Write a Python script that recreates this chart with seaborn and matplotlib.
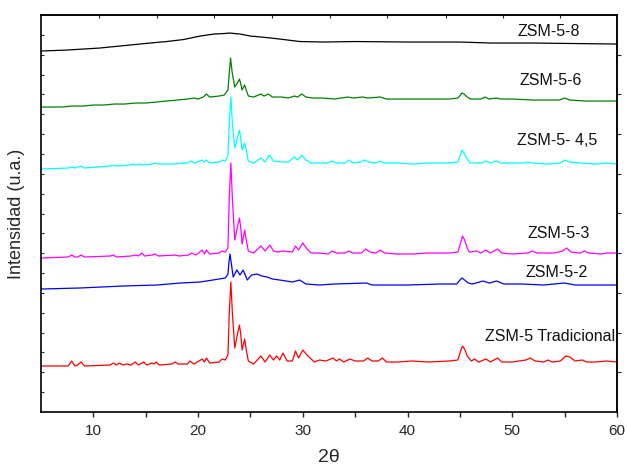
import numpy as np
import pandas as pd
import seaborn as sns
import matplotlib
matplotlib.use("Agg")
import matplotlib.pyplot as plt

# patrones DRX: (2theta, intensidad u.a.)
zsm5_8 = [(5.0, 361), (7.5, 362), (10.6, 364), (13.0, 366.5), (15.4, 369), (17.0, 370.5),
          (18.6, 372.5), (20.2, 376), (21.5, 378), (22.5, 378.5), (23.0, 379), (24.0, 378),
          (25.0, 376), (26.5, 374.5), (27.8, 373), (29.7, 370.5), (32.0, 370), (35.0, 370.5),
          (40.0, 370), (45.0, 370), (48.0, 369), (52.0, 369), (56.0, 368.5), (60.0, 368)]

zsm5_6 = [(5.0, 305), (7.0, 305), (8.0, 306), (9.0, 306), (10.0, 307), (11.0, 307), (12.0, 308),
          (13.0, 308), (14.0, 309), (15.0, 309), (16.0, 310), (17.0, 311), (18.0, 312), (19.0, 313),
          (19.6, 314), (20.0, 313), (20.5, 315), (20.8, 318), (21.1, 315), (22.0, 316), (22.5, 317),
          (22.85, 322), (22.97, 338), (23.1, 354), (23.25, 340), (23.5, 325), (23.8, 330),
          (23.95, 333), (24.08, 328), (24.2, 322), (24.45, 327), (24.6, 322), (24.8, 316),
          (25.3, 315), (26.0, 318), (26.3, 316), (26.7, 318), (27.1, 315), (28.0, 315),
          (28.6, 314), (29.2, 316), (29.5, 315), (29.9, 318), (30.3, 315), (31.0, 314), (32.0, 314),
          (33.0, 313), (34.3, 315), (34.8, 314), (35.7, 315), (36.2, 314), (37.4, 315), (38.0, 313),
          (40.0, 313), (42.0, 313), (44.0, 313), (44.8, 314), (45.05, 317), (45.2, 319),
          (45.4, 318), (45.7, 315), (46.0, 313), (47.0, 313), (47.4, 315), (47.8, 313), (48.5, 314),
          (48.9, 313), (50.0, 313), (52.0, 312), (54.5, 312), (55.0, 314), (55.5, 312), (57.0, 311),
          (58.0, 311), (59.0, 311), (60.0, 311)]

zsm5_45 = [(5.0, 243), (7.6, 244), (7.93, 245), (8.25, 244), (8.5, 245), (8.82, 246), (9.15, 244),
           (11.6, 246), (11.8, 247), (12.1, 246), (13.5, 247), (13.8, 248), (14.1, 247), (14.4, 248),
           (14.7, 247), (15.6, 248), (15.9, 249), (16.2, 248), (17.5, 248), (18.5, 249), (19.0, 249),
           (19.3, 251), (19.7, 249), (20.4, 252), (20.6, 250), (20.8, 252), (21.1, 249), (22.0, 250),
           (22.3, 252), (22.6, 251), (22.85, 256), (22.98, 290), (23.13, 315), (23.28, 288),
           (23.5, 264), (23.8, 276), (23.95, 282), (24.07, 274), (24.2, 262), (24.45, 269),
           (24.6, 262), (24.8, 251), (25.3, 249), (26.0, 254), (26.4, 250), (26.8, 257),
           (27.2, 251), (28.0, 250), (28.6, 250), (29.2, 255), (29.5, 252), (29.9, 257), (30.3, 252),
           (30.8, 249), (31.6, 249), (32.4, 249), (32.8, 251), (33.2, 249), (34.0, 249), (34.4, 252),
           (34.8, 249), (35.5, 250), (35.9, 252), (36.3, 250), (37.0, 249), (37.4, 251), (37.8, 249),
           (39.0, 249), (40.5, 248), (42.0, 249), (44.0, 249), (44.8, 250), (45.05, 257),
           (45.2, 262), (45.4, 259), (45.7, 253), (46.0, 249), (47.1, 249), (47.5, 251), (47.9, 249),
           (48.5, 251), (48.9, 249), (50.0, 249), (51.1, 249), (51.5, 250), (51.9, 249), (53.5, 248),
           (54.6, 249), (55.0, 252), (55.5, 250), (56.5, 249), (58.0, 248), (59.0, 249), (60.0, 248)]

zsm5_3 = [(5.0, 154), (7.6, 155), (7.93, 157), (8.25, 155), (8.5, 155), (8.82, 157), (9.15, 155),
          (11.6, 156), (11.9, 157), (12.2, 155), (13.6, 156), (14.0, 157), (14.3, 156), (14.6, 159),
          (14.9, 156), (15.6, 157), (15.9, 158), (16.2, 156), (17.8, 157), (18.2, 156), (19.1, 157),
          (19.4, 159), (19.8, 157), (20.4, 162), (20.6, 158), (20.8, 162), (21.1, 158), (22.0, 159),
          (22.3, 161), (22.6, 160), (22.85, 164), (22.98, 215), (23.13, 249), (23.28, 212),
          (23.5, 172), (23.8, 187), (23.95, 194), (24.07, 185), (24.2, 168), (24.45, 182),
          (24.6, 172), (24.8, 161), (25.3, 159), (26.0, 166), (26.4, 161), (26.85, 167),
          (27.2, 161), (27.6, 160), (28.1, 161), (29.0, 160), (29.3, 166), (29.6, 162), (30.0, 169),
          (30.4, 163), (30.8, 159), (31.6, 159), (32.4, 158), (32.8, 161), (33.2, 159), (34.0, 159),
          (34.4, 161), (34.8, 159), (35.6, 159), (36.0, 163), (36.4, 160), (37.0, 159), (37.4, 162),
          (37.8, 159), (39.0, 158), (40.5, 158), (42.0, 159), (44.0, 159), (44.8, 160), (45.1, 170),
          (45.25, 176), (45.45, 172), (45.7, 164), (45.9, 160), (46.6, 161), (47.0, 159),
          (47.5, 162), (47.9, 159), (48.6, 163), (49.0, 159), (50.0, 158), (51.5, 159), (51.9, 161),
          (52.4, 159), (54.0, 159), (54.8, 161), (55.2, 164), (55.6, 160), (56.5, 159), (56.9, 161),
          (57.3, 159), (58.5, 158), (59.0, 159), (60.0, 159)]

zsm5_2 = [(5.0, 123), (8.7, 124), (12.8, 126), (16.1, 127), (18.3, 129), (20.2, 130), (21.4, 132),
          (22.6, 134), (22.85, 138), (22.95, 150), (23.05, 158), (23.18, 148), (23.35, 135),
          (23.7, 142), (24.0, 137), (24.3, 142), (24.7, 132), (25.1, 137), (25.6, 138), (26.1, 136),
          (26.6, 135), (27.1, 133), (27.8, 132), (29.0, 130), (29.7, 132), (30.3, 128), (31.6, 127),
          (33.0, 128), (36.1, 129), (36.6, 127), (40.0, 127), (43.1, 128), (44.7, 128), (45.0, 132),
          (45.2, 134), (45.45, 132), (45.8, 129), (46.2, 128), (47.2, 131), (47.8, 129), (48.5, 131),
          (49.2, 128), (51.0, 128), (53.0, 127), (55.0, 129), (56.0, 127), (58.0, 127), (60.0, 127)]

zsm5_trad = [(5.0, 46), (7.6, 46), (7.93, 51), (8.25, 46), (8.5, 47), (8.82, 50), (9.15, 46),
             (11.6, 47), (11.9, 49), (12.2, 47), (12.5, 49), (12.8, 47), (13.2, 48), (13.6, 47),
             (14.0, 50), (14.3, 47), (14.8, 50), (15.1, 47), (15.6, 49), (15.8, 48), (16.0, 50),
             (16.3, 47), (17.5, 48), (17.8, 50), (18.1, 48), (19.0, 48), (19.2, 51), (19.6, 48),
             (20.4, 53), (20.6, 50), (20.8, 54), (21.1, 49), (22.0, 50), (22.3, 53), (22.6, 52),
             (22.85, 57), (22.98, 100), (23.13, 130), (23.28, 98), (23.5, 64), (23.8, 80),
             (23.95, 87), (24.07, 78), (24.2, 62), (24.45, 73), (24.6, 62), (24.8, 51), (25.3, 48),
             (26.0, 56), (26.4, 50), (26.85, 57), (27.2, 52), (27.5, 56), (27.8, 52), (28.1, 59),
             (28.5, 51), (29.0, 51), (29.3, 61), (29.6, 54), (30.0, 62), (30.4, 57), (30.7, 54),
             (31.1, 50), (31.6, 52), (32.2, 51), (32.9, 54), (33.2, 51), (33.5, 53), (33.9, 50),
             (34.5, 53), (35.0, 51), (35.8, 51), (36.2, 54), (36.6, 51), (37.2, 51), (37.6, 54),
             (38.0, 50), (39.0, 50), (40.4, 51), (42.0, 50), (44.0, 51), (44.8, 52), (45.1, 62),
             (45.25, 66), (45.45, 63), (45.7, 56), (46.1, 51), (46.4, 53), (46.8, 50), (47.5, 53),
             (47.9, 50), (48.6, 54), (49.0, 50), (50.0, 50), (51.3, 52), (51.7, 54), (52.2, 51),
             (53.0, 50), (53.4, 52), (53.8, 50), (54.6, 51), (55.1, 56), (55.5, 55), (56.0, 51),
             (56.7, 52), (57.1, 50), (58.0, 50), (59.0, 51), (60.0, 50)]

series = [zsm5_8, zsm5_6, zsm5_45, zsm5_3, zsm5_2, zsm5_trad]
colors = ["black", "#008000", "#00ffff", "#ff00ff", "#0000ff", "#ff0000"]
labels = ["ZSM-5-8", "ZSM-5-6", "ZSM-5- 4,5", "ZSM-5-3", "ZSM-5-2", "ZSM-5 Tradicional"]
label_pos = [(50.5, 381), (50.7, 332), (50.5, 272), (51.5, 179), (51.3, 140), (47.4, 76)]

top_ticks = [10.53, 16.07, 21.51, 27.04, 32.58, 38.01, 43.64, 49.08, 54.52]
right_ticks = [40, 79, 119, 159, 199, 238, 278, 318, 357]

sns.set_theme(style="ticks")
plt.rcParams["font.family"] = ["Liberation Sans", "DejaVu Sans"]

fig = plt.figure(figsize=(6.27, 4.70), dpi=100)
ax = fig.add_axes([0.0654, 0.1234, 0.9186, 0.8446])

for pts, c in zip(series, colors):
    df = pd.DataFrame(pts, columns=["two_theta", "intensidad"])
    sns.lineplot(data=df, x="two_theta", y="intensidad", color=c, lw=0.9, ax=ax)

for lab, (x, y) in zip(labels, label_pos):
    ax.text(x, y, lab, fontsize=11.5, va="center", ha="left", color="#111111")

ax.set_xlim(5, 60)
ax.set_ylim(0, 397)
ax.set_xticks([10, 20, 30, 40, 50, 60])
ax.set_xticks([15, 25, 35, 45, 55], minor=True)
ax.set_yticks([])
ax.set_yticks(np.arange(19.85, 397, 19.85), minor=True)
ax.tick_params(axis="x", which="both", direction="out", length=3.5, width=1, labelsize=11, pad=5)
ax.tick_params(axis="y", which="minor", direction="in", length=2, width=0.8)
ax.set_xlabel("2θ", fontsize=14, labelpad=8)
ax.set_ylabel("Intensidad (u.a.)", fontsize=13, labelpad=8)

for s in ax.spines.values():
    s.set_linewidth(1.2)
    s.set_color("black")

# ejes superior y derecho con sus marcas
top = ax.secondary_xaxis("top")
top.set_xticks(top_ticks)
top.tick_params(direction="in", length=2.5, width=0.8, labeltop=False)
right = ax.secondary_yaxis("right")
right.set_yticks(right_ticks)
right.tick_params(direction="out", length=3, width=0.8, labelright=False)

fig.savefig("out.png", dpi=100)
